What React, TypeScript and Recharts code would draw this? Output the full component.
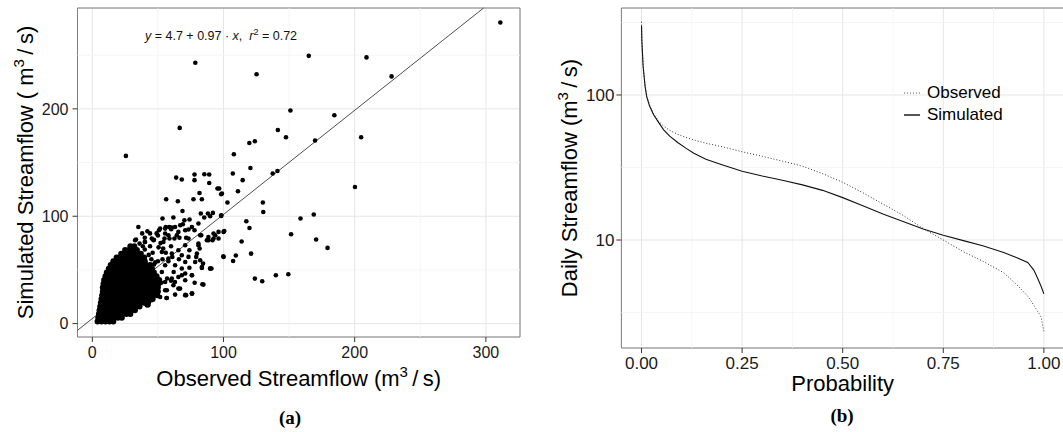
import React from 'react'
import {
  ScatterChart,
  Scatter,
  LineChart,
  Line,
  XAxis,
  YAxis,
  CartesianGrid,
  ReferenceLine,
  ReferenceArea,
  Legend,
  Label,
} from 'recharts'

const FONT = '"Liberation Sans", Arial, Helvetica, sans-serif'
const SERIF = '"Liberation Serif", "Times New Roman", serif'

// ---------- (a) observed vs simulated daily streamflow, [observed, simulated] ----------

// dense core of the cloud, one row per simulated level: [sim, observed values]
const denseRows: [number, number[]][] = [
  [2, [4, 7, 10, 13, 16]],
  [5.5, [4.5, 7.5, 10.5, 13.5, 16.5, 19.5, 22.5]],
  [9, [5, 8, 11, 14, 17, 20, 23, 26, 29]],
  [12.5, [5.5, 8.5, 11.5, 14.5, 17.5, 20.5, 23.5, 26.5, 29.5, 32.5]],
  [16, [6, 9, 12, 15, 18, 21, 24, 27, 30, 33, 36]],
  [19.5, [6.5, 9.5, 12.5, 15.5, 18.5, 21.5, 24.5, 27.5, 30.5, 33.5, 36.5, 39.5, 42.5]],
  [23, [7, 10, 13, 16, 19, 22, 25, 28, 31, 34, 37, 40, 43, 46]],
  [26.5, [7.5, 10.5, 13.5, 16.5, 19.5, 22.5, 25.5, 28.5, 31.5, 34.5, 37.5, 40.5, 43.5, 46.5, 49.5]],
  [30, [8, 11, 14, 17, 20, 23, 26, 29, 32, 35, 38, 41, 44, 47, 50]],
  [33.5, [8, 11, 14, 17, 20, 23, 26, 29, 32, 35, 38, 41, 44, 47, 50]],
  [37, [8.5, 11.5, 14.5, 17.5, 20.5, 23.5, 26.5, 29.5, 32.5, 35.5, 38.5, 41.5, 44.5, 47.5, 50.5]],
  [40.5, [9, 12, 15, 18, 21, 24, 27, 30, 33, 36, 39, 42, 45, 48, 51]],
  [44, [10, 13, 16, 19, 22, 25, 28, 31, 34, 37, 40, 43, 46, 49]],
  [47.5, [11, 14, 17, 20, 23, 26, 29, 32, 35, 38, 41, 44, 47]],
  [51, [12.5, 15.5, 18.5, 21.5, 24.5, 27.5, 30.5, 33.5, 36.5, 39.5, 42.5, 45.5]],
  [54.5, [14, 17, 20, 23, 26, 29, 32, 35, 38, 41, 44]],
  [58, [16, 19, 22, 25, 28, 31, 34, 37, 40]],
  [61.5, [18.5, 21.5, 24.5, 27.5, 30.5, 33.5, 36.5, 39.5]],
  [65, [22, 25, 28, 31, 34, 37]],
  [68.5, [25, 28, 31, 34]],
  [72, [29, 32]],
]

// scattered points around the cloud
const scatterMid: [number, number][] = [
  [55.5, 31], [63, 38.8], [68.2, 45], [70.8, 57.4], [70.8, 73], [58, 82.3], [45.3, 79.2],
  [71.5, 26.4], [75.9, 28], [63.1, 27], [56.8, 23.9], [42.7, 17], [93.7, 82.3], [88.5, 77.6],
  [80.9, 73], [79.7, 65.2], [82.2, 59], [83.5, 51.8], [89.9, 51.3], [75.9, 45], [70.8, 40.4],
  [65.6, 32.6], [51.7, 24.8], [63.1, 54.3], [68.2, 63.7], [73.3, 79.2], [65.6, 85.4],
  [55.5, 88.5], [63.1, 90], [100, 62], [35.1, 90], [32.6, 77.6], [19.8, 60.6], [56, 66],
  [60, 72], [52, 75], [62, 48], [58, 58], [66, 60], [74, 52], [78, 38], [60, 40], [57, 42],
  [61, 62], [54, 70], [49, 84], [40, 76], [42, 86], [40, 80], [44, 84], [47, 78], [50, 82],
  [38, 84], [33.3, 78.3], [63.9, 136], [68.2, 134.2], [77.9, 138.9], [77.9, 133.6],
  [89.1, 138.9], [89.1, 131], [56.3, 115.8], [65.2, 114], [77.1, 115.8], [83.5, 115.8],
  [81.7, 121.7], [95.4, 125.8], [96.7, 125.8], [98.2, 120.5], [68.7, 104.9], [82.7, 102.5],
  [85.3, 98.8], [88.1, 102.5], [91.9, 103.1], [89.8, 100], [98.2, 100.3], [53.5, 97.9],
  [61.8, 98.8], [74.1, 96.9], [69, 92.5], [80.9, 93.2], [51.7, 88.5], [56, 90], [60.6, 89.5],
  [67, 91.6], [73.3, 87.6], [77.9, 87], [83, 82.3], [88.5, 80.7], [92.4, 79.2], [96.2, 79.2],
  [96.2, 85.4], [100, 85.4], [55, 79.2], [58.8, 79.2], [62.6, 79.2], [66.4, 80], [71.5, 80],
  [91.6, 77.6], [84.4, 55.9], [90.8, 51.3], [83.9, 36.6], [76.1, 28], [71, 26.7], [56.5, 23.9],
  [74, 68.3], [79.2, 62.1], [81.8, 69.9], [70.2, 96.3], [58.6, 90], [50.8, 87], [99.9, 62.7],
  [98.8, 121.2], [98.3, 100.9], [100.6, 86.3], [117.4, 95.3], [119.8, 89.1], [113.8, 76.4],
  [109.4, 63.4], [107.3, 58.3], [121, 65.2], [103, 112.8], [111, 123.3], [114.6, 133.6],
  [107.1, 139.8], [85.4, 139.1],
  [55.5, 83.9], [60.1, 87.9], [64.4, 82.3], [70.8, 87], [75.9, 90], [82.2, 82.3], [87.3, 77.6],
  [92.4, 83.9], [80.9, 74.6], [65.6, 68.3], [60.6, 65.2], [58, 60.6], [73.3, 62.1], [78.4, 57.4],
  [83.5, 52.7], [89.8, 51.3], [68.2, 51.3], [70.8, 46.6], [75.9, 45], [65.6, 43.4], [60.6, 41.9],
  [55.5, 38.8], [61.8, 35.7], [66.9, 32.6], [56.8, 31], [45.3, 21.7], [41.5, 17], [70.8, 26.4],
  [75.9, 28], [84.7, 36.3], [53, 66.7], [47.9, 57], [53, 48.1], [55.5, 54.3], [54.2, 76],
  [46.6, 77.6], [40.2, 76], [50.5, 71], [44, 72], [36, 74.5], [53.5, 60], [52.5, 38],
  [47, 55], [45, 60], [43, 64], [40, 69], [38.5, 72], [50, 58], [46, 66],
]

const scatterOutliers: [number, number][] = [
  [311, 280.5], [78.5, 243], [165, 249.4], [209, 248], [125.2, 232.3], [228.1, 230.3],
  [151, 198.5], [184.5, 194.1], [66.6, 182.3], [25.6, 156.2], [141.4, 180.4], [147.6, 173.6],
  [204.9, 173.6], [169.8, 170.5], [123.9, 169.9], [119.7, 168.3], [107.9, 157.8], [120.5, 145],
  [141.1, 142.2], [137.5, 139.8], [200.2, 127.3], [130, 112.8], [130.3, 104], [158.7, 97.9],
  [168.8, 101.6], [151.5, 83.2], [170.6, 78.3], [179.3, 70.5], [149.4, 45.9], [139.9, 45],
  [123.9, 41.9], [129.5, 39.4],
]

const fitIntercept = 4.7
const fitSlope = 0.97
const fitR2 = 0.72

const xDomainA: [number, number] = [-11.3, 326]
const yDomainA: [number, number] = [-12.5, 294]
const xTicksA = [0, 100, 200, 300]
const yTicksA = [0, 100, 200]
const xMinorA = [50, 150, 250]
const yMinorA = [50, 150, 250]

// ---------- (b) flow duration curves ----------
const probability = [
  0, 0.001, 0.004, 0.009, 0.013, 0.02, 0.03, 0.042, 0.055, 0.07, 0.09, 0.11, 0.13, 0.16, 0.2,
  0.25, 0.3, 0.35, 0.4, 0.45, 0.5, 0.55, 0.6, 0.65, 0.7, 0.75, 0.8, 0.85, 0.9, 0.93, 0.96,
  0.975, 0.985, 0.993, 1,
]
const observedFlow = [
  320, 240, 160, 115, 98, 85, 74, 66, 61, 57, 53.5, 51, 49, 46.5, 44, 40.6, 37.8, 35, 32.3,
  28.7, 25, 21.2, 17.7, 14.8, 12, 10, 8.3, 7.1, 5.95, 5.0, 4.1, 3.55, 3.2, 2.95, 2.35,
]
const simulatedFlow = [
  300, 230, 157, 114, 97, 84, 73, 65, 57.5, 52, 47, 43, 39.6, 36, 33, 29.8, 27.6, 25.8, 24,
  22, 19.6, 17.2, 15.1, 13.4, 11.9, 10.8, 9.9, 9.1, 8.2, 7.6, 7.0, 6.2, 5.4, 4.8, 4.25,
]

const xDomainB: [number, number] = [-0.05, 1.05]
const yDomainB: [number, number] = [1.8, 398]
const xTicksB = [0, 0.25, 0.5, 0.75, 1]
const xMinorB = [0.125, 0.375, 0.625, 0.875]
const yTicksB = [10, 100]
const yMinorB = [3.162, 31.62, 316.2]

const denseData = denseRows.flatMap(([sim, obsList]) => obsList.map((obs) => ({ obs, sim })))
const sparseData = [...scatterMid, ...scatterOutliers].map(([obs, sim]) => ({ obs, sim }))

const fdcData = probability.map((p, i) => ({
  p,
  observed: observedFlow[i],
  simulated: simulatedFlow[i],
}))

const fitAt = (x: number) => fitIntercept + fitSlope * x

const GRID = '#e6e6e6'
const MINOR = '#f3f3f3'
const BORDER = '#7f7f7f'
const TICK_TEXT = { fill: '#1a1a1a', fontSize: 16, fontFamily: FONT }

const Dot = (props: any) => <circle cx={props.cx} cy={props.cy} r={2.3} fill="#000" />
const DenseDot = (props: any) => <circle cx={props.cx} cy={props.cy} r={3} fill="#000" />

function XTitle({ viewBox, text, baseline, caption, captionX, captionBaseline }: any) {
  const cx = viewBox.x + viewBox.width / 2
  return (
    <g>
      <text x={cx} y={baseline} textAnchor="middle" fontFamily={FONT} fontSize={22} fill="#000">
        {text}
      </text>
      <text
        x={captionX}
        y={captionBaseline}
        textAnchor="middle"
        fontFamily={SERIF}
        fontWeight="bold"
        fontSize={19}
        fill="#000"
      >
        {caption}
      </text>
    </g>
  )
}

function YTitle({ viewBox, prefix, x }: any) {
  const cy = viewBox.y + viewBox.height / 2
  return (
    <text
      x={x}
      y={cy}
      transform={`rotate(-90, ${x}, ${cy})`}
      textAnchor="middle"
      fontFamily={FONT}
      fontSize={22}
      fill="#000"
    >
      <tspan>{prefix}</tspan>
      <tspan dy={-9} fontSize={15}>3</tspan>
      <tspan dy={9}>{'\u2009/\u2009s)'}</tspan>
    </text>
  )
}

function LegendB() {
  const row = { display: 'flex', alignItems: 'center', height: 22 }
  return (
    <div style={{ fontFamily: FONT, fontSize: 17, color: '#000' }}>
      <div style={row}>
        <svg width={16} height={4}>
          <line x1={0} y1={2} x2={16} y2={2} stroke="#555" strokeWidth={1} strokeDasharray="1 2" />
        </svg>
        <span style={{ marginLeft: 7 }}>Observed</span>
      </div>
      <div style={row}>
        <svg width={16} height={4}>
          <line x1={0} y1={2} x2={16} y2={2} stroke="#555" strokeWidth={2} />
        </svg>
        <span style={{ marginLeft: 7 }}>Simulated</span>
      </div>
    </div>
  )
}

export default function App() {
  const fitEndX = (yDomainA[1] - fitIntercept) / fitSlope
  return (
    <div
      style={{
        position: 'fixed',
        left: 0,
        top: 0,
        width: 1063,
        height: 432,
        overflow: 'hidden',
        background: '#fff',
      }}
    >
      <div style={{ position: 'absolute', left: 0, top: 0 }}>
        <ScatterChart width={530} height={432} margin={{ top: 8, right: 10, bottom: 0, left: 0 }}>
          <CartesianGrid stroke={GRID} strokeWidth={1} />
          {xMinorA.map((v) => (
            <ReferenceLine key={`xa${v}`} x={v} stroke={MINOR} strokeWidth={0.8} />
          ))}
          {yMinorA.map((v) => (
            <ReferenceLine key={`ya${v}`} y={v} stroke={MINOR} strokeWidth={0.8} />
          ))}
          <XAxis
            type="number"
            dataKey="obs"
            domain={xDomainA}
            ticks={xTicksA}
            allowDataOverflow
            interval={0}
            height={95}
            axisLine={false}
            tickLine={{ stroke: '#333' }}
            tickSize={5}
            tickMargin={5}
            tick={TICK_TEXT}
          >
            <Label
              content={(p: any) => (
                <XTitle
                  viewBox={p.viewBox}
                  baseline={386}
                  caption="(a)"
                  captionX={290}
                  captionBaseline={424}
                  text={
                    <>
                      <tspan>Observed Streamflow (m</tspan>
                      <tspan dy={-9} fontSize={15}>3</tspan>
                      <tspan dy={9}>{'\u2009/\u2009s)'}</tspan>
                    </>
                  }
                />
              )}
            />
          </XAxis>
          <YAxis
            type="number"
            dataKey="sim"
            domain={yDomainA}
            ticks={yTicksA}
            allowDataOverflow
            interval={0}
            width={77.5}
            axisLine={false}
            tickLine={{ stroke: '#333' }}
            tickSize={5}
            tickMargin={4}
            tick={TICK_TEXT}
          >
            <Label
              content={(p: any) => (
                <YTitle viewBox={p.viewBox} x={33} prefix="Simulated Streamflow ( m" />
              )}
            />
          </YAxis>
          <ReferenceLine
            segment={[
              { x: xDomainA[0], y: fitAt(xDomainA[0]) },
              { x: fitEndX, y: fitAt(fitEndX) },
            ]}
            stroke="#3a3a3a"
            strokeWidth={0.9}
          />
          <Scatter data={denseData} shape={DenseDot} isAnimationActive={false} />
          <Scatter data={sparseData} shape={Dot} isAnimationActive={false} />
          <ReferenceArea
            x1={xDomainA[0]}
            x2={xDomainA[1]}
            y1={yDomainA[0]}
            y2={yDomainA[1]}
            fill="none"
            fillOpacity={0}
            stroke={BORDER}
            strokeWidth={1}
          />
        </ScatterChart>
      </div>

      <div
        style={{
          position: 'absolute',
          left: 145,
          top: 24,
          fontFamily: FONT,
          fontSize: 12.5,
          lineHeight: '16px',
          color: '#111',
          whiteSpace: 'nowrap',
        }}
      >
        <i>y</i> = {fitIntercept} + {fitSlope} · <i>x</i>,&nbsp;&nbsp;<i>r</i>
        <sup style={{ fontSize: 9 }}>2</sup> = {fitR2}
      </div>

      <div style={{ position: 'absolute', left: 530, top: 0 }}>
        <LineChart width={540} height={432} data={fdcData} margin={{ top: 8, right: 6, bottom: 0, left: 0 }}>
          <CartesianGrid stroke={GRID} strokeWidth={1} />
          {xMinorB.map((v) => (
            <ReferenceLine key={`xb${v}`} x={v} stroke={MINOR} strokeWidth={0.8} />
          ))}
          {yMinorB.map((v) => (
            <ReferenceLine key={`yb${v}`} y={v} stroke={MINOR} strokeWidth={0.8} />
          ))}
          <XAxis
            type="number"
            dataKey="p"
            domain={xDomainB}
            ticks={xTicksB}
            allowDataOverflow
            interval={0}
            height={84}
            axisLine={false}
            tickLine={{ stroke: '#333' }}
            tickSize={5}
            tickMargin={4}
            tickFormatter={(v: number) => v.toFixed(2)}
            tick={{ ...TICK_TEXT, fontSize: 17 }}
          >
            <Label
              content={(p: any) => (
                <XTitle
                  viewBox={p.viewBox}
                  baseline={391}
                  caption="(b)"
                  captionX={842 - 530}
                  captionBaseline={422}
                  text="Probability"
                />
              )}
            />
          </XAxis>
          <YAxis
            type="number"
            scale="log"
            domain={yDomainB}
            ticks={yTicksB}
            allowDataOverflow
            interval={0}
            width={91.4}
            axisLine={false}
            tickLine={{ stroke: '#333' }}
            tickSize={5}
            tickMargin={2}
            tick={{ ...TICK_TEXT, fontSize: 17 }}
          >
            <Label
              content={(p: any) => (
                <YTitle viewBox={p.viewBox} x={577 - 530} prefix="Daily Streamflow (m" />
              )}
            />
          </YAxis>
          <Line
            type="linear"
            dataKey="observed"
            stroke="#333"
            strokeWidth={1}
            strokeDasharray="1 2"
            dot={false}
            isAnimationActive={false}
          />
          <Line
            type="linear"
            dataKey="simulated"
            stroke="#111"
            strokeWidth={1.1}
            dot={false}
            isAnimationActive={false}
          />
          <ReferenceArea
            x1={xDomainB[0]}
            x2={xDomainB[1]}
            y1={yDomainB[0]}
            y2={yDomainB[1]}
            fill="none"
            fillOpacity={0}
            stroke={BORDER}
            strokeWidth={1}
          />
          <Legend
            layout="vertical"
            align="center"
            verticalAlign="middle"
            content={() => <LegendB />}
            wrapperStyle={{ left: 904 - 530, top: 82, width: 'auto' }}
          />
        </LineChart>
      </div>
    </div>
  )
}
